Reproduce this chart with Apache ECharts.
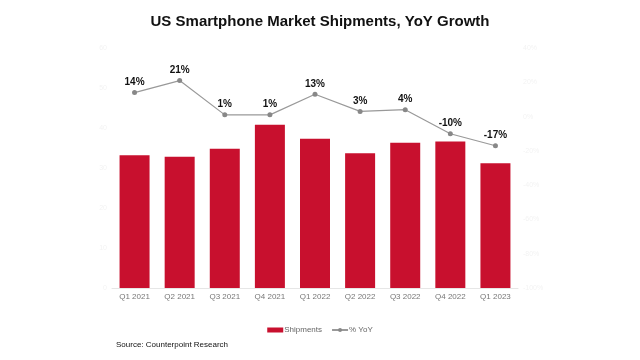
<!DOCTYPE html>
<html><head><meta charset="utf-8">
<script src="https://cdn.jsdelivr.net/npm/echarts@6/dist/echarts.min.js"></script>
<style>html,body{margin:0;padding:0;background:#fff}#c{width:640px;height:360px}</style>
</head><body><div id="c"></div>
<script>
const categories = ['Q1 2021','Q2 2021','Q3 2021','Q4 2021','Q1 2022','Q2 2022','Q3 2022','Q4 2022','Q1 2023'];
const shipments = [33.2, 32.8, 34.8, 40.8, 37.3, 33.7, 36.3, 36.6, 31.2];
const yoy = [14, 21, 1, 1, 13, 3, 4, -10, -17];
const yoyLabels = ['14%','21%','1%','1%','13%','3%','4%','-10%','-17%'];

const chart = echarts.init(document.getElementById('c'), null, {renderer:'canvas'});
const FONT = 'Liberation Sans, Arial, sans-serif';
chart.setOption({
  animation:false,
  textStyle:{fontFamily:FONT},
  title:{text:'US Smartphone Market Shipments, YoY Growth', left:'center', top:9,
    textStyle:{fontSize:15, fontWeight:'bold', color:'#111', fontFamily:FONT}},
  grid:{left:112, right:122, top:48, bottom:72},
  legend:{top:321, left:'center', itemGap:9, textStyle:{fontSize:8, color:'#666', fontFamily:FONT, padding:[0,0,0,-4]},
    data:[{name:'Shipments', icon:'rect', itemStyle:{color:'#C8102E'}}, {name:'% YoY'}],
    itemWidth:16, itemHeight:5},
  graphic:[{type:'text', left:116, top:341, style:{text:'Source: Counterpoint Research', fontSize:8, fill:'#111', fontFamily:FONT}}],
  xAxis:{type:'category', data:categories,
    axisLine:{lineStyle:{color:'#e6e6e6'}}, axisTick:{show:false},
    axisLabel:{fontSize:8, color:'#777', margin:5}},
  yAxis:[
    {type:'value', min:0, max:60, interval:10, splitLine:{show:false},
     axisLabel:{fontSize:7, color:'#f3f3f3', margin:5}},
    {type:'value', min:-100, max:40, interval:20, splitLine:{show:false},
     axisLabel:{fontSize:7, color:'#f3f3f3', margin:5, formatter:'{value}%'}}
  ],
  series:[
    {name:'Shipments', type:'bar', data:shipments, barWidth:30, itemStyle:{color:'#C8102E'}},
    {name:'% YoY', type:'line', yAxisIndex:1, data:yoy, symbol:'circle', symbolSize:5,
     lineStyle:{color:'#999', width:1.2}, itemStyle:{color:'#888'},
     label:{show:true, position:'top', distance:3, fontSize:10, fontWeight:'bold', color:'#111',
       formatter:p=>yoyLabels[p.dataIndex]}}
  ]
});
</script></body></html>
